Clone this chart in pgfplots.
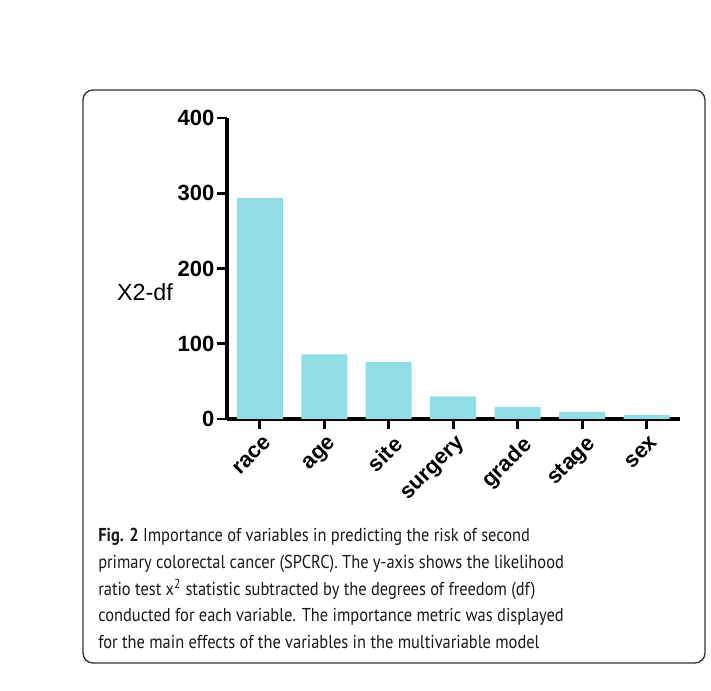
\documentclass[border=0pt]{standalone}
\usepackage{fontspec}
\usepackage{pgfplots}
\pgfplotsset{compat=1.18}
\setmainfont{Liberation Sans}
\newfontfamily\capfont[FakeStretch=0.88]{PT Sans}
\definecolor{barc}{HTML}{90DDE3}
\begin{document}
\begin{tikzpicture}
\useasboundingbox (0,0) rectangle (533.25pt,517.5pt);
\draw[line width=1pt, draw=black!80, rounded corners=7.5pt] (62.25pt,450pt) rectangle (528.75pt,20.25pt);
\begin{axis}[
  at={(170.25pt,203.25pt)}, anchor=south west,
  scale only axis, width=339.75pt, height=225.75pt,
  xmin=-0.51, xmax=6.52, ymin=0, ymax=400,
  axis x line*=bottom, axis y line*=left,
  axis line style={line width=2.6pt, -},
  ytick={0,100,200,300,400},
  xtick={0,...,6},
  xticklabels={race,age,site,surgery,grade,stage,sex},
  tick align=outside, major tick length=7.5pt,
  tick style={line width=2.2pt, black},
  /pgf/number format/assume math mode=true,
  ticklabel style={font=\fontsize{16.5}{16.5}\selectfont\bfseries},
  yticklabel style={xshift=1.5pt},
  xticklabel style={rotate=45, anchor=north east, inner sep=1pt, yshift=-4pt, xshift=0pt},
  clip=false,
]
\addplot[ybar, bar width=34.5pt, bar shift=0pt, fill=barc, draw=none]
  coordinates {(0,294) (1,86) (2,76) (3,30) (4,16) (5,9.5) (6,5)};
\end{axis}
\node[font=\fontsize{17.5}{17.5}\selectfont] at (108.75pt,298.5pt) {X2-df};
\begin{scope}[every node/.style={anchor=base west, inner sep=0pt, font=\capfont\fontsize{14}{14}\selectfont, text=black!90}]
\node at (73.5pt,111pt) {\textbf{Fig. 2} Importance of variables in predicting the risk of second};
\node at (73.5pt,91.1pt) {primary colorectal cancer (SPCRC). The y-axis shows the likelihood};
\node at (73.5pt,71.25pt) {ratio test x\textsuperscript{2} statistic subtracted by the degrees of freedom (df)};
\node at (73.5pt,51.4pt) {conducted for each variable. The importance metric was displayed};
\node at (73.5pt,31.5pt) {for the main effects of the variables in the multivariable model};
\end{scope}
\end{tikzpicture}
\end{document}
